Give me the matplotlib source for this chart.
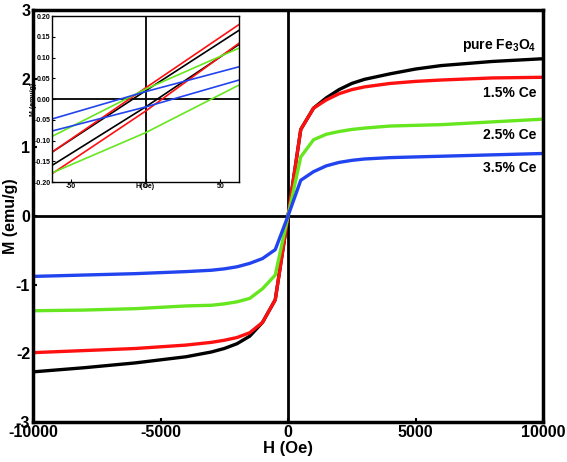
import matplotlib
matplotlib.use("Agg")
import matplotlib.pyplot as plt

plt.rcParams['font.family'] = ['Liberation Sans', 'DejaVu Sans']
plt.rcParams['font.weight'] = 'bold'
plt.rcParams['axes.unicode_minus'] = False
plt.rcParams['mathtext.fontset'] = 'custom'
plt.rcParams['mathtext.rm'] = 'Liberation Sans:bold'
plt.rcParams['mathtext.bf'] = 'Liberation Sans:bold'
plt.rcParams['mathtext.default'] = 'bf'

# ---- main hysteresis data ----
H = [-10000, -8000, -6000, -4000, -3000, -2500, -2000, -1500, -1000, -500, 0,
     500, 1000, 1500, 2000, 2500, 3000, 4000, 5000, 6000, 8000, 10000]
M_pure = [-2.27, -2.21, -2.14, -2.05, -1.98, -1.93, -1.86, -1.75, -1.55, -1.22, 0.0,
          1.26, 1.57, 1.72, 1.84, 1.93, 1.99, 2.07, 2.14, 2.19, 2.25, 2.29]
M_15 = [-1.99, -1.96, -1.93, -1.88, -1.84, -1.81, -1.77, -1.70, -1.55, -1.22, 0.0,
        1.26, 1.57, 1.69, 1.78, 1.84, 1.88, 1.93, 1.96, 1.98, 2.01, 2.02]
M_25 = [-1.38, -1.37, -1.35, -1.31, -1.30, -1.28, -1.25, -1.20, -1.06, -0.86, 0.0,
        0.86, 1.11, 1.19, 1.23, 1.26, 1.28, 1.31, 1.32, 1.33, 1.37, 1.41]
M_35 = [-0.88, -0.86, -0.84, -0.81, -0.79, -0.77, -0.74, -0.69, -0.62, -0.49, 0.0,
        0.52, 0.645, 0.73, 0.78, 0.81, 0.83, 0.85, 0.86, 0.87, 0.89, 0.91]

labels = ['pure Fe$_3$O$_4$', '1.5% Ce', '2.5% Ce', '3.5% Ce']
label_y = [2.49, 1.79, 1.18, 0.70]
colors = ['#000000', '#ff1010', '#66e61e', '#2244ee']

# ---- inset (low-field loops) data ----
h_in = [-62.5, 0, 62.5]
inset_upper = {
    'pure': [-0.128, 0.020, 0.166],
    '1.5': [-0.128, 0.027, 0.180],
    '2.5': [-0.090, 0.024, 0.123],
    '3.5': [-0.048, 0.018, 0.078],
}
inset_lower = {
    'pure': [-0.160, -0.019, 0.132],
    '1.5': [-0.180, -0.029, 0.135],
    '2.5': [-0.178, -0.081, 0.034],
    '3.5': [-0.077, -0.019, 0.046],
}

fig = plt.figure(figsize=(5.67, 4.62), dpi=100)
ax = fig.add_axes([0.0582, 0.0866, 0.8995, 0.8918])

series = [M_pure, M_15, M_25, M_35]
for m, c in zip(series, colors):
    ax.plot(H, m, color=c, lw=2.4, solid_joinstyle='round')

ax.axhline(0, color='black', lw=2.0, zorder=0)
ax.axvline(0, color='black', lw=2.0, zorder=0)

for lab, yv in zip(labels, label_y):
    ax.text(9750, yv, lab, ha='right', va='center', fontsize=10, fontweight='bold')

ax.set_xlim(-10000, 10000)
ax.set_ylim(-3, 3)
ax.set_xticks([-10000, -5000, 0, 5000, 10000])
ax.set_yticks([-3, -2, -1, 0, 1, 2, 3])
ax.tick_params(direction='in', length=3, width=1.5, labelsize=11.5, pad=2)
for lab in ax.get_xticklabels() + ax.get_yticklabels():
    lab.set_fontweight('bold')
for s in ax.spines.values():
    s.set_linewidth(2.5)
ax.set_xlabel('H (Oe)', fontsize=12, fontweight='bold', labelpad=1)
ax.set_ylabel('M (emu/g)', fontsize=11.5, fontweight='bold')
ax.yaxis.set_label_coords(-0.029, 0.5)

# ---- inset ----
axi = fig.add_axes([0.0917, 0.606, 0.330, 0.359])
for key, c in zip(['pure', '1.5', '2.5', '3.5'], colors):
    axi.plot(h_in, inset_upper[key], color=c, lw=1.2)
    axi.plot(h_in, inset_lower[key], color=c, lw=1.2)
axi.axhline(0, color='black', lw=1.3, zorder=0)
axi.axvline(0, color='black', lw=1.3, zorder=0)
axi.set_xlim(-62.5, 62.5)
axi.set_ylim(-0.2, 0.2)
axi.set_xticks([-50, 0, 50])
axi.set_yticks([-0.20, -0.15, -0.10, -0.05, 0.00, 0.05, 0.10, 0.15, 0.20])
axi.set_yticklabels(['-0.20', '-0.15', '-0.10', '-0.05', '0.00', '0.05',
                     '0.10', '0.15', '0.20'])
axi.tick_params(direction='in', length=2, width=0.8, labelsize=5, pad=1)
for lab in axi.get_xticklabels() + axi.get_yticklabels():
    lab.set_fontweight('bold')
for s in axi.spines.values():
    s.set_linewidth(1.0)
axi.set_xlabel('H(Oe)', fontsize=5, fontweight='bold', labelpad=-5)
axi.set_ylabel('M (emu/g)', fontsize=5, fontweight='bold', labelpad=-2)

fig.savefig('out.png', dpi=100)
